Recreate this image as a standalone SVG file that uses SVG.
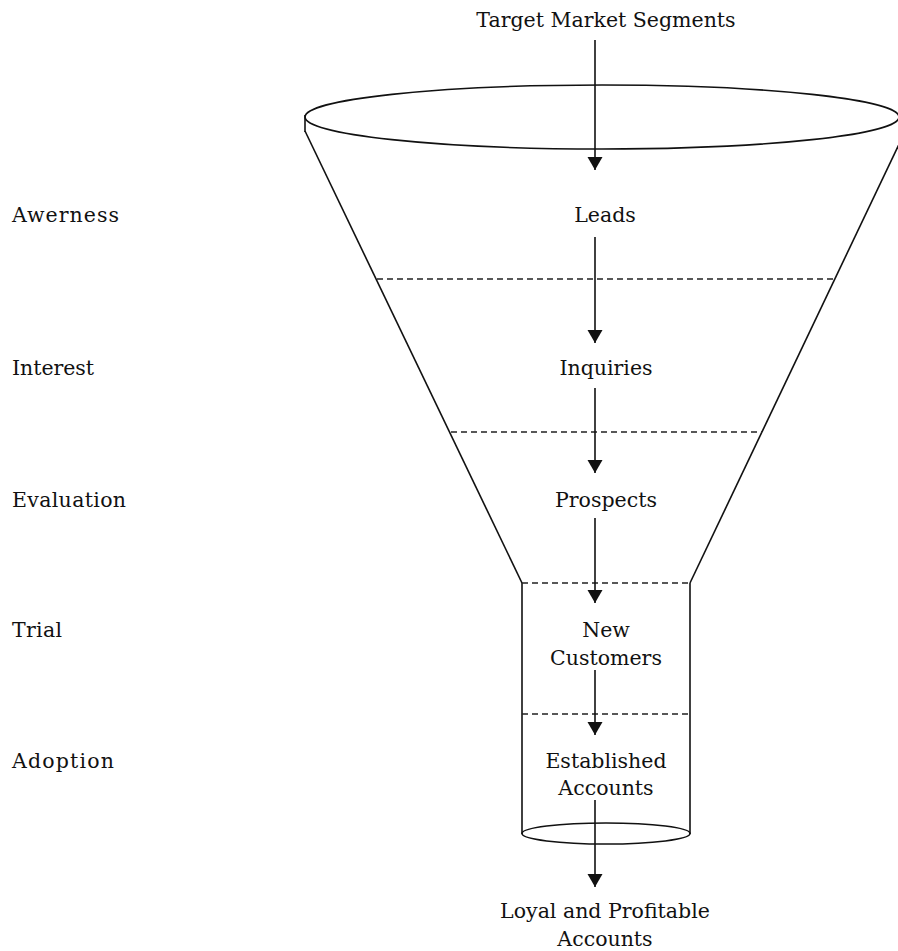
<svg xmlns="http://www.w3.org/2000/svg" width="898" height="951" viewBox="0 0 898 951">
  <defs>
    <style>
      .lbl { font-family: "DejaVu Serif", "Liberation Serif", serif; font-size: 20.5px; fill: #111; }
      .mid { text-anchor: middle; }
      .edge { fill: none; stroke: #111; stroke-width: 1.6; }
      .dash { fill: none; stroke: #222; stroke-width: 1.3; stroke-dasharray: 6 4; }
      .flow { fill: none; stroke: #111; stroke-width: 1.6; marker-end: url(#head); }
    </style>
    <marker id="head" markerUnits="userSpaceOnUse" viewBox="0 -8 14 16" refX="13" refY="0" markerWidth="14" markerHeight="16" orient="auto">
      <path d="M0,-7.5 L13,0 L0,7.5 z" fill="#111"/>
    </marker>
  </defs>

  <rect width="898" height="951" fill="#fff"/>

  <!-- funnel body -->
  <g id="funnel">
    <ellipse class="edge" cx="602" cy="117" rx="297" ry="32"/>
    <line class="edge" x1="305" y1="115" x2="305" y2="132"/>
    <line class="edge" x1="305" y1="131" x2="522" y2="583"/>
    <line class="edge" x1="902" y1="138" x2="690" y2="583"/>
    <line class="edge" x1="522" y1="583" x2="522" y2="834"/>
    <line class="edge" x1="690" y1="583" x2="690" y2="834"/>
    <ellipse class="edge" cx="606" cy="833.5" rx="84" ry="10.5"/>
    <line class="dash" x1="377" y1="279" x2="835" y2="279"/>
    <line class="dash" x1="451" y1="432" x2="762" y2="432"/>
    <line class="dash" x1="522" y1="583" x2="690" y2="583"/>
    <line class="dash" x1="522" y1="714" x2="690" y2="714"/>
  </g>

  <!-- stage labels on the left -->
  <g id="stages">
    <text class="lbl" x="12" y="222" textLength="107" lengthAdjust="spacing">Awerness</text>
    <text class="lbl" x="12" y="375" textLength="82" lengthAdjust="spacing">Interest</text>
    <text class="lbl" x="12" y="507" textLength="114" lengthAdjust="spacing">Evaluation</text>
    <text class="lbl" x="12" y="637" textLength="50" lengthAdjust="spacing">Trial</text>
    <text class="lbl" x="12" y="768" textLength="102" lengthAdjust="spacing">Adoption</text>
  </g>

  <!-- funnel nodes -->
  <g id="node-segments"><text class="lbl mid" x="606" y="27">Target Market Segments</text></g>
  <g id="node-leads"><text class="lbl mid" x="605" y="222">Leads</text></g>
  <g id="node-inquiries"><text class="lbl mid" x="606" y="375">Inquiries</text></g>
  <g id="node-prospects"><text class="lbl mid" x="606" y="507">Prospects</text></g>
  <g id="node-new-customers">
    <text class="lbl mid" x="606" y="637">New</text>
    <text class="lbl mid" x="606" y="665">Customers</text>
  </g>
  <g id="node-established">
    <text class="lbl mid" x="606" y="768">Established</text>
    <text class="lbl mid" x="606" y="795">Accounts</text>
  </g>
  <g id="node-loyal">
    <text class="lbl mid" x="605" y="918">Loyal and Profitable</text>
    <text class="lbl mid" x="605" y="946">Accounts</text>
  </g>

  <!-- connectors -->
  <g id="connectors">
    <line class="flow" x1="595" y1="40" x2="595" y2="170"/>
    <line class="flow" x1="595" y1="237" x2="595" y2="343"/>
    <line class="flow" x1="595" y1="388" x2="595" y2="473"/>
    <line class="flow" x1="595" y1="518" x2="595" y2="603"/>
    <line class="flow" x1="595" y1="670" x2="595" y2="735"/>
    <line class="flow" x1="595" y1="800" x2="595" y2="887"/>
  </g>
</svg>
